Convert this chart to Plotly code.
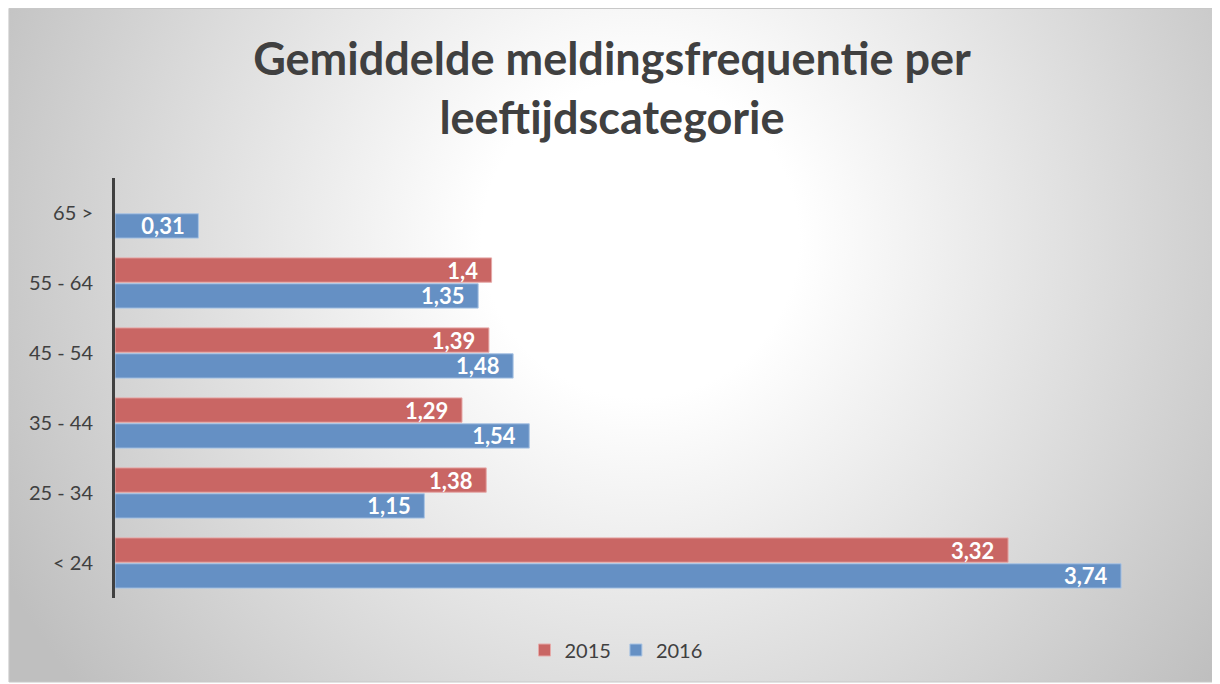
import base64
import plotly.graph_objects as go

categories = ["< 24", "25 - 34", "35 - 44", "45 - 54", "55 - 64", "65 >"]
values_2015 = [3.32, 1.38, 1.29, 1.39, 1.4, None]
values_2016 = [3.74, 1.15, 1.54, 1.48, 1.35, 0.31]
series_names = ["2015", "2016"]

PAD = "\u00a0\u00a0"


def fmt(v):
    return "" if v is None else f"{v:g}".replace(".", ",") + PAD


# The page body has an 8px margin, so work in screen pixels minus 8
OFF = 8
W, H = 1220 - OFF, 684 - OFF
L, R, T, B = 114.5 - OFF, 1191 - OFF, 178 - OFF, 598 - OFF


def px_x(p):
    return (p - OFF - L) / (R - L)


def px_y(p):
    return (B - (p - OFF)) / (B - T)


svg = '''<svg xmlns="http://www.w3.org/2000/svg" width="1206" height="676" viewBox="0 0 1206 676" preserveAspectRatio="none">
<defs><radialGradient id="g" gradientUnits="userSpaceOnUse" cx="632" cy="232" r="720">
<stop offset="0" stop-color="#ffffff"/><stop offset="0.22" stop-color="#ffffff"/>
<stop offset="1" stop-color="#bfbfbf"/></radialGradient></defs>
<rect x="0" y="0" width="1206" height="676" fill="url(#g)"/></svg>'''
src = "data:image/svg+xml;base64," + base64.b64encode(svg.encode()).decode()

label_font = dict(family="Lato", size=22, color="white", weight="bold")

fig = go.Figure()
fig.add_trace(go.Bar(
    y=categories, x=values_2016, name=series_names[1], orientation="h",
    marker=dict(color="#6590c4", line=dict(color="#a9c4e4", width=1)),
    text=[fmt(v) for v in values_2016], textposition="inside", insidetextanchor="end",
    constraintext="none", textfont=label_font, cliponaxis=False,
))
fig.add_trace(go.Bar(
    y=categories, x=values_2015, name=series_names[0], orientation="h",
    marker=dict(color="#c96664", line=dict(color="#e6a9a8", width=1)),
    text=[fmt(v) for v in values_2015], textposition="inside", insidetextanchor="end",
    constraintext="none", textfont=label_font, cliponaxis=False,
))

fig.update_layout(
    width=W, height=H,
    margin=dict(l=L, r=W - R, t=T, b=H - B, autoexpand=False),
    paper_bgcolor="white", plot_bgcolor="rgba(0,0,0,0)",
    barmode="group", bargap=0.26, bargroupgap=0.06,
    font=dict(family="Lato", color="#404040"),
    title=dict(
        text="<b>Gemiddelde meldingsfrequentie per<br>leeftijdscategorie</b>",
        x=(612 - OFF) / W, xref="container", xanchor="center",
        y=1 - (75 - OFF) / H, yref="container", yanchor="middle",
        font=dict(family="Lato", size=45, color="#404040"),
    ),
    xaxis=dict(range=[0, 4], visible=False, showgrid=False, zeroline=False),
    yaxis=dict(
        type="category", categoryorder="array", categoryarray=categories,
        showline=True, linecolor="#404040", linewidth=3,
        ticks="", ticklabelstandoff=15, showgrid=False,
        tickfont=dict(family="Lato", size=20, color="#404040"),
    ),
    legend=dict(
        orientation="h", x=(616 - OFF) / W, xanchor="center", xref="container",
        y=px_y(650), yanchor="middle", traceorder="reversed",
        font=dict(family="Lato", size=20, color="#404040"),
        bgcolor="rgba(255,255,255,0)", itemwidth=30,
    ),
    images=[dict(
        source=src, xref="paper", yref="paper",
        x=px_x(8), y=px_y(8), sizex=px_x(1214) - px_x(8), sizey=px_y(8) - px_y(682),
        xanchor="left", yanchor="top", sizing="stretch", layer="below",
    )],
    shapes=[dict(
        type="rect", xref="paper", yref="paper",
        x0=px_x(8.5), x1=px_x(1214), y0=px_y(682), y1=px_y(8.5),
        line=dict(color="#c8c8c8", width=1), layer="below",
    )],
    showlegend=True,
)

fig.write_html("out.html")
